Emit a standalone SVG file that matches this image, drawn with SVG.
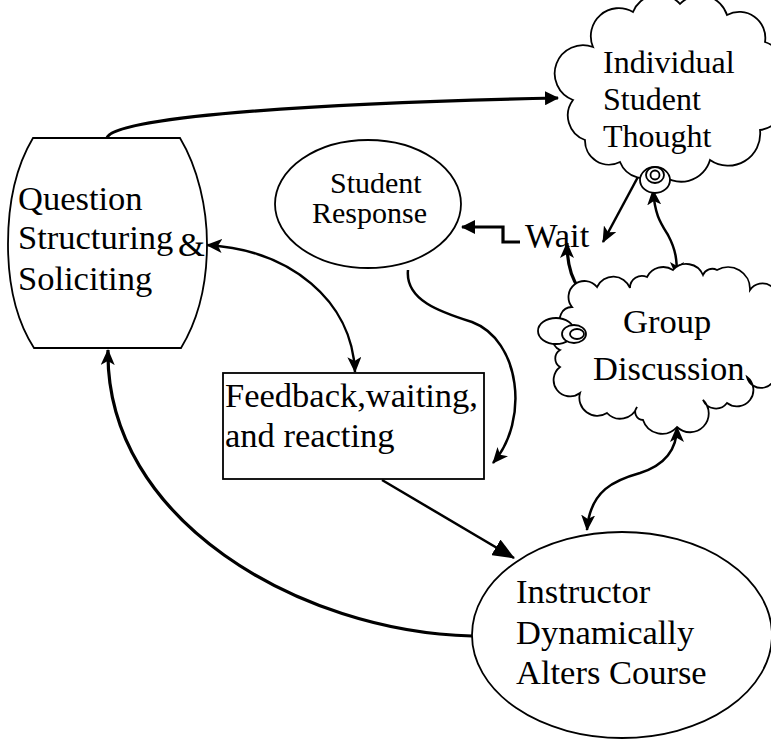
<svg xmlns="http://www.w3.org/2000/svg" width="771" height="741" viewBox="0 0 771 741">
<style>
.shape{fill:#fff;stroke:#000;stroke-width:1.8}
.t{font-family:"Liberation Serif","Times New Roman",serif;font-size:34.5px;fill:#000}
.c{fill:none;stroke:#000;stroke-width:2.5}
.thick{stroke-width:3.2}
</style>
<defs>
<marker id="ah" markerUnits="userSpaceOnUse" markerWidth="16" markerHeight="14" refX="15" refY="7" orient="auto-start-reverse" viewBox="0 0 16 14">
<path d="M0,0 L16,7 L0,14 L4,7 Z" fill="#000"/>
</marker>
<marker id="ahb" markerUnits="userSpaceOnUse" markerWidth="22" markerHeight="18" refX="21" refY="9" orient="auto" viewBox="0 0 22 18">
<path d="M0,0 L22,9 L0,18 Z" fill="#000"/>
</marker>
<marker id="ahf" markerUnits="userSpaceOnUse" markerWidth="14" markerHeight="14" refX="13" refY="7" orient="auto" viewBox="0 0 14 14">
<path d="M0,0 L14,7 L0,14 Z" fill="#000"/>
</marker>
</defs>

<g id="connectors">
<path class="c thick" d="M107,138 C112,118 300,103 558,98" marker-end="url(#ahf)"/>
<path class="c" d="M207,245 C290,250 352,300 355,372" marker-start="url(#ah)" marker-end="url(#ah)"/>
<path class="c" d="M408,270 C405,300 440,312 472,322 C520,340 530,420 493,463" marker-end="url(#ah)"/>
<path class="c" d="M382,480 L514,558" marker-end="url(#ahb)"/>
<path class="c thick" d="M472,636 C300,632 105,520 108,350" marker-end="url(#ah)"/>
<path class="c" d="M587,530 C590,490 615,480 640,473 C665,465 677,450 677,427" marker-start="url(#ah)" marker-end="url(#ah)"/>
<path class="c" d="M639,175 L603,242" marker-end="url(#ah)"/>
<path class="c" d="M653,190 C655,215 660,222 668,235 C676,250 677,260 677,277" marker-start="url(#ah)" marker-end="url(#ah)"/>
<path class="c thick" d="M608,308 C585,300 567,285 567,243" marker-end="url(#ah)"/>
<path class="c thick" d="M520,242 L503,242 L503,227 L462,227" marker-end="url(#ahf)"/>
</g>

<g id="question">
<path class="shape" d="M33,138 L180,138 C198,168 207,208 207,244 C207,285 198,320 181,348 L34,348 C16,320 8,285 8,244 C8,205 15,168 33,138 Z"/>
<text class="t" x="18" y="210">Question</text>
<text class="t" x="18" y="249">Structuring</text>
<text class="t" x="178" y="256">&amp;</text>
<text class="t" x="18" y="290">Soliciting</text>
</g>

<g id="individual">
<path class="shape" d="M593,47 A28,28 0 0 1 633,12 A28,28 0 0 1 680,4 A28,28 0 0 1 727,15 A26,26 0 0 1 765,42 A26,26 0 0 1 775,85 A26,26 0 0 1 760,130 A32,32 0 0 1 710,160 A30,30 0 0 1 660,173 A26,26 0 0 1 620,162 A24,24 0 0 1 585,140 A26,26 0 0 1 573,100 A22,22 0 0 1 593,47 Z"/>
<ellipse class="shape" cx="655" cy="180" rx="15" ry="13"/>
<ellipse class="shape" cx="655" cy="175" rx="9" ry="8"/>
<circle class="shape" cx="655" cy="175" r="4.5"/>
<text class="t" x="603" y="73" style="font-size:32px">Individual</text>
<text class="t" x="603" y="110" style="font-size:32px">Student</text>
<text class="t" x="603" y="147" style="font-size:32px">Thought</text>
</g>

<g id="wait">
<text class="t" x="525" y="247">Wait</text>
</g>

<g id="student-response">
<ellipse class="shape" cx="368" cy="204" rx="93" ry="64"/>
<text class="t" x="330" y="193" style="font-size:30px">Student</text>
<text class="t" x="312" y="223" style="font-size:30px">Response</text>
</g>

<g id="group-discussion">
<path class="shape" d="M572,307 A16,16 0 0 1 597,287 A18,18 0 0 1 630,288 A12,12 0 0 1 647,277 A18,18 0 0 1 673,270 A18,18 0 0 1 703,275 A10,10 0 0 1 717,270 A22,22 0 0 1 750,290 A14,14 0 0 1 775,307 L775,370 A14,14 0 0 1 747,377 A16,16 0 0 1 727,403 A14,14 0 0 1 703,400 A18,18 0 0 1 677,427 A20,20 0 0 1 643,420 A8,8 0 0 1 637,407 A18,18 0 0 1 607,413 A18,18 0 0 1 580,393 A16,16 0 0 1 560,367 A10,10 0 0 1 560,350 A12,12 0 0 1 563,327 A12,12 0 0 1 572,307 Z"/>
<ellipse class="shape" cx="556" cy="331" rx="18" ry="13"/>
<ellipse class="shape" cx="574" cy="334" rx="12" ry="9"/>
<ellipse class="shape" cx="577" cy="334" rx="7" ry="5"/>
<text class="t" x="623" y="333">Group</text>
<text class="t" x="593" y="380">Discussion</text>
</g>

<g id="feedback">
<rect class="shape" x="223" y="373" width="261" height="106"/>
<text class="t" x="225" y="407">Feedback,waiting,</text>
<text class="t" x="225" y="447">and reacting</text>
</g>

<g id="instructor">
<ellipse class="shape" cx="622" cy="635" rx="150" ry="103"/>
<text class="t" x="516" y="603">Instructor</text>
<text class="t" x="516" y="644">Dynamically</text>
<text class="t" x="516" y="684">Alters Course</text>
</g>
</svg>
